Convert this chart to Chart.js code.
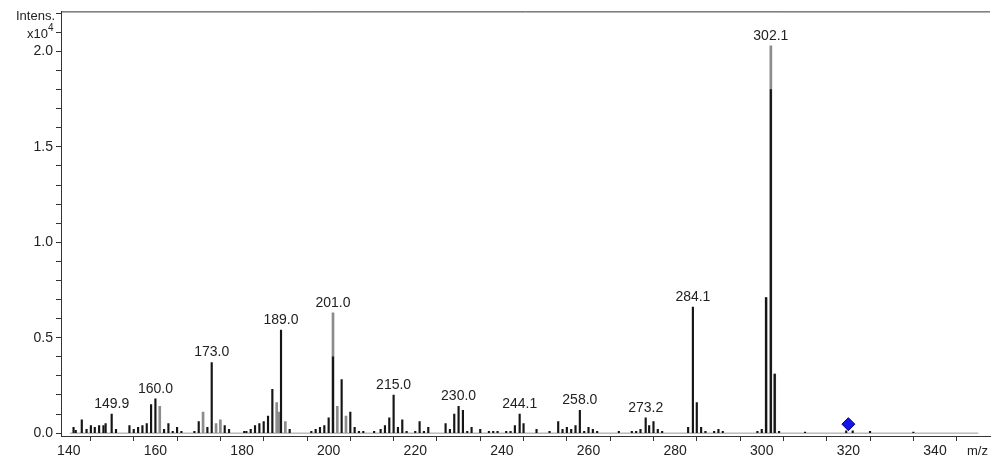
<!DOCTYPE html>
<html><head><meta charset="utf-8">
<script src="https://cdn.jsdelivr.net/npm/chart.js@4.4.0/dist/chart.umd.min.js"></script>
<style>html,body{margin:0;padding:0;background:#fff;}#wrap{width:1000px;height:468px;position:relative;}</style>
</head><body><div id="wrap"><canvas id="c"></canvas></div>
<script>
// m/z of dark sticks and their intensities (x10^4)
const mzDark = [141.1,141.6,143.0,144.1,145.1,146.0,147.0,148.0,148.5,149.9,150.9,
  154.0,155.0,156.0,157.0,158.0,159.0,160.0,162.0,163.0,164.0,165.0,166.0,
  169.0,170.0,172.0,173.0,176.0,177.0,
  180.5,181.0,182.0,183.0,184.0,185.0,186.0,187.0,189.0,191.0,
  196.0,197.0,198.0,199.0,200.0,201.0,203.0,205.0,206.0,207.0,208.0,
  210.5,212.0,213.0,214.0,215.0,216.0,217.0,218.0,220.0,221.0,222.0,223.0,
  227.0,228.0,229.0,230.0,231.0,232.0,233.0,235.0,237.0,238.0,239.0,
  241.0,242.0,243.0,244.1,245.0,248.0,
  251.0,253.0,254.0,255.0,256.0,257.0,258.0,259.0,260.0,261.0,262.0,
  267.0,270.0,271.0,272.0,273.2,274.0,275.0,276.0,277.0,
  283.0,284.1,285.0,286.0,287.0,289.0,290.0,291.0,
  299.0,300.0,301.0,302.1,303.0,304.0,
  310.0,319.5,321.0,325.0,335.0];
const intDark = [0.03,0.015,0.07,0.02,0.04,0.03,0.04,0.04,0.05,0.10,0.02,
  0.04,0.02,0.03,0.04,0.05,0.15,0.18,0.02,0.05,0.01,0.03,0.01,
  0.01,0.06,0.03,0.37,0.04,0.02,
  0.01,0.01,0.02,0.04,0.05,0.06,0.09,0.23,0.54,0.02,
  0.01,0.02,0.03,0.04,0.08,0.40,0.28,0.11,0.03,0.01,0.01,
  0.01,0.02,0.04,0.08,0.20,0.03,0.07,0.01,0.01,0.06,0.01,0.03,
  0.05,0.02,0.10,0.14,0.12,0.01,0.03,0.02,0.01,0.01,0.01,
  0.01,0.01,0.04,0.10,0.05,0.02,
  0.01,0.06,0.02,0.03,0.02,0.04,0.12,0.01,0.03,0.02,0.01,
  0.01,0.01,0.01,0.02,0.08,0.04,0.06,0.02,0.01,
  0.03,0.66,0.16,0.03,0.01,0.01,0.02,0.01,
  0.01,0.02,0.71,1.80,0.31,0.01,
  0.005,0.012,0.012,0.01,0.005];
// lighter (grey) profile parts
const mzGrey = [161.0,171.0,174.0,175.0,188.0,188.5,190.0,201.0,202.0,204.0,301.0,302.1,303.0];
const intGrey = [0.14,0.11,0.05,0.07,0.16,0.11,0.06,0.63,0.14,0.09,0.71,2.03,0.31];
// spectrum baseline (acquired m/z range, zero intensity)
const baselineMz = [140.3, 350.0];
const baselineInt = [0, 0];
// annotated peaks
const peakLabels = ['149.9','160.0','173.0','189.0','201.0','215.0','230.0','244.1','258.0','273.2','284.1','302.1'];
const peakLabelMz = [149.9,160.0,173.0,189.0,201.0,215.0,230.0,244.1,258.0,273.2,284.1,302.1];
const peakLabelInt = [0.10,0.18,0.37,0.54,0.63,0.20,0.14,0.10,0.12,0.08,0.66,2.03];
// precursor marker
const precursorMz = [320.0];
const precursorInt = [0.047];
// axis ticks
const xTicks = [140,150,160,170,180,190,200,210,220,230,240,250,260,270,280,290,300,310,320,330,340,350];
const yTicks = [0,0.1,0.2,0.3,0.4,0.5,0.6,0.7,0.8,0.9,1.0,1.1,1.2,1.3,1.4,1.5,1.6,1.7,1.8,1.9,2.0,2.1,2.2];

const FONT = 'Liberation Sans, Arial, sans-serif';
const toXY = (xs, ys) => xs.map((x, i) => ({x: x, y: ys[i]}));

const decor = {
  id: 'decor',
  afterDraw(chart) {
    const ctx = chart.ctx, ca = chart.chartArea;
    const xs = chart.scales.x, ys = chart.scales.y;
    ctx.save();
    // top frame line
    ctx.strokeStyle = '#333'; ctx.lineWidth = 1;
    ctx.beginPath(); ctx.moveTo(ca.left, ca.top + 0.5); ctx.lineTo(ca.right, ca.top + 0.5); ctx.stroke();
    // peak labels
    ctx.fillStyle = '#222'; ctx.font = '14px ' + FONT;
    ctx.textAlign = 'center'; ctx.textBaseline = 'bottom';
    peakLabels.forEach((t, i) => {
      ctx.fillText(t, xs.getPixelForValue(peakLabelMz[i]), ys.getPixelForValue(peakLabelInt[i]) - 3);
    });
    // axis titles
    ctx.textBaseline = 'middle'; ctx.textAlign = 'right';
    ctx.font = '13px ' + FONT;
    ctx.fillText('Intens.', ca.left - 6, ca.top + 5);
    ctx.fillText('x10', ca.left - 13, ca.top + 23);
    ctx.textAlign = 'left'; ctx.font = '10px ' + FONT;
    ctx.fillText('4', ca.left - 13, ca.top + 17);
    ctx.font = '13px ' + FONT;
    ctx.fillText('m/z', ca.right - 23, xs.bottom - 17);
    ctx.restore();
  }
};

new Chart(document.getElementById('c'), {
  type: 'bar',
  data: {
    datasets: [
      {type: 'scatter', data: toXY(precursorMz, precursorInt), pointStyle: 'rectRot', radius: 6.5,
       backgroundColor: '#1414e6', borderColor: '#00008c', borderWidth: 1},
      {data: toXY(mzDark, intDark), backgroundColor: '#151515', barThickness: 1.5, grouped: false},
      {data: toXY(mzGrey, intGrey), backgroundColor: '#8c8c8c', barThickness: 2, grouped: false},
      {type: 'line', data: toXY(baselineMz, baselineInt), borderColor: '#9a9a9a', borderWidth: 1,
       pointRadius: 0, fill: false}
    ]
  },
  options: {
    responsive: true, maintainAspectRatio: false, animation: false,
    layout: {padding: {top: 10, right: 10, left: 0, bottom: 0}},
    plugins: {legend: {display: false}, tooltip: {enabled: false}},
    scales: {
      x: {
        type: 'linear', min: 138.2, max: 352.7, offset: false,
        afterBuildTicks: s => { s.ticks = xTicks.map(v => ({value: v})); },
        afterFit: s => { s.height = 32; },
        grid: {drawOnChartArea: false, drawTicks: true, tickLength: 5, color: '#333'},
        border: {display: true, color: '#333', width: 1},
        ticks: {autoSkip: false, maxRotation: 0, padding: 2, color: '#222', font: {family: FONT, size: 14},
                callback: v => (v % 20 === 0 && v <= 340) ? String(v) : ''}
      },
      y: {
        min: -0.015, max: 2.21,
        afterBuildTicks: s => { s.ticks = yTicks.map(v => ({value: v})); },
        afterFit: s => { s.width = 61; },
        grid: {drawOnChartArea: false, drawTicks: true, tickLength: 5, color: '#333'},
        border: {display: true, color: '#333', width: 1},
        ticks: {autoSkip: false, padding: 3, color: '#222', font: {family: FONT, size: 14},
                callback: v => (Math.abs(v * 2 - Math.round(v * 2)) < 1e-6) ? v.toFixed(1) : ''}
      }
    }
  },
  plugins: [decor]
});
</script></body></html>
